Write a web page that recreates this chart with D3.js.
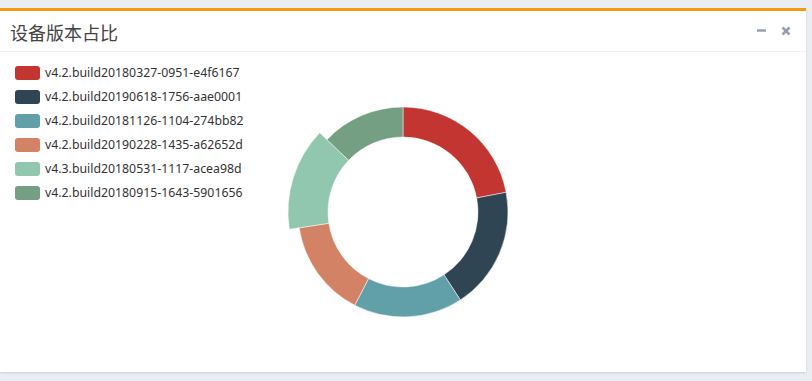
<!DOCTYPE html>
<html>
<head>
<meta charset="utf-8">
<script src="https://cdn.jsdelivr.net/npm/d3@7"></script>
<style>
  html, body { margin: 0; padding: 0; background: #eaedf2; width: 812px; height: 381px; overflow: hidden; }
  .panel {
    position: absolute; left: 0; top: 8px; width: 806px; height: 361px;
    background: #fff; border-top: 3px solid #f39c12;
    box-shadow: 0 1px 2px rgba(0,0,0,0.12);
  }
  .header {
    height: 40px; border-bottom: 1px solid #f2f2f2; position: relative;
  }
  .title {
    position: absolute; left: 10px; top: 8px;
    font-family: "Noto Sans CJK SC", sans-serif; font-size: 18px; color: #444;
  }
  #chart { position: absolute; left: 0; top: 0; }
</style>
</head>
<body>
<div class="panel">
  <div class="header">
    <div class="title">设备版本占比</div>
  </div>
</div>
<svg id="chart" width="812" height="381"></svg>
<script>
var versions = [
  'v4.2.build20180327-0951-e4f6167',
  'v4.2.build20190618-1756-aae0001',
  'v4.2.build20181126-1104-274bb82',
  'v4.2.build20190228-1435-a62652d',
  'v4.3.build20180531-1117-acea98d',
  'v4.2.build20180915-1643-5901656'
];
var counts = [220, 188, 168, 150, 145, 129];
var colors = ['#c23531', '#2f4554', '#61a0a8', '#d48265', '#91c7ae', '#749f83'];
var highlighted = 4;

var svg = d3.select('#chart');

// header tools (minus / close)
var tools = svg.append('g').attr('fill', 'none').attr('stroke', '#97a0b3').attr('stroke-width', 2.5);
tools.append('line').attr('x1', 757).attr('x2', 766).attr('y1', 30.5).attr('y2', 30.5);
tools.append('line').attr('x1', 782.5).attr('x2', 789.5).attr('y1', 27.5).attr('y2', 34.5);
tools.append('line').attr('x1', 789.5).attr('x2', 782.5).attr('y1', 27.5).attr('y2', 34.5);

// legend
var legendY = d3.scalePoint()
    .domain(versions)
    .range([73, 193]);

var legend = svg.append('g')
  .selectAll('g')
  .data(versions)
  .enter().append('g')
    .attr('transform', function(d) { return 'translate(15,' + legendY(d) + ')'; });

legend.append('rect')
    .attr('x', 0)
    .attr('y', -7)
    .attr('width', 25)
    .attr('height', 14)
    .attr('rx', 3)
    .attr('fill', function(d, i) { return colors[i]; });

legend.append('text')
    .attr('x', 30)
    .attr('y', 0)
    .attr('dy', '0.35em')
    .attr('font-family', '"Noto Sans", sans-serif')
    .attr('font-size', 12.3)
    .attr('fill', '#333')
    .text(function(d) { return d; });

// donut
var cx = 403, cy = 212;
var pie = d3.pie().sort(null).value(function(d) { return d; });
var arc = d3.arc().innerRadius(75).outerRadius(105);
var arcBig = d3.arc().innerRadius(75).outerRadius(115);

svg.append('g')
    .attr('transform', 'translate(' + cx + ',' + cy + ')')
  .selectAll('path')
  .data(pie(counts))
  .enter().append('path')
    .attr('d', function(d, i) { return i === highlighted ? arcBig(d) : arc(d); })
    .attr('fill', function(d, i) { return colors[i]; })
    .attr('stroke', '#fff')
    .attr('stroke-width', 0.5);
</script>
</body>
</html>
